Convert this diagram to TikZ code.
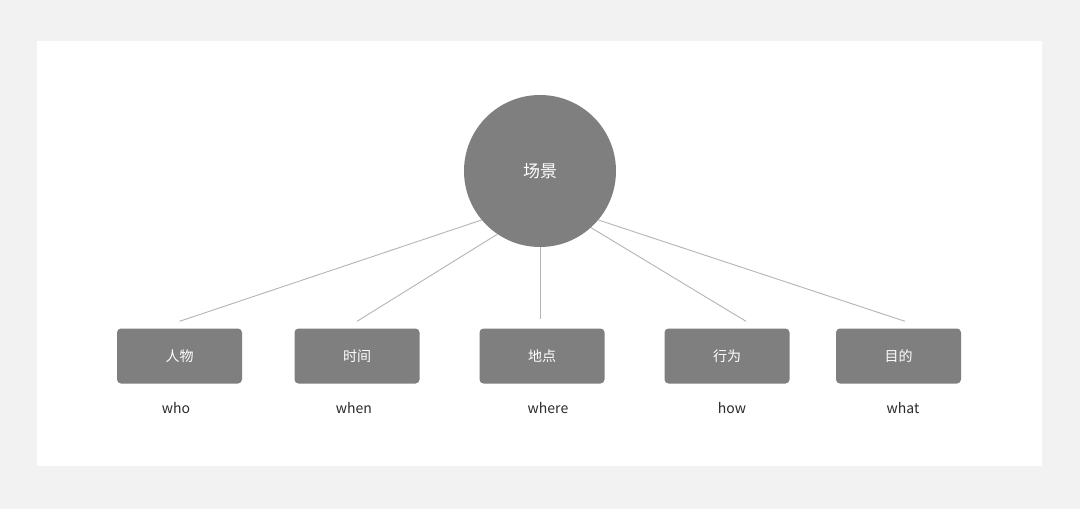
\documentclass[tikz,border=0pt]{standalone}
\usepackage{fontspec}
\setmainfont{Noto Sans CJK SC}
\definecolor{boxgray}{HTML}{7F7F7F}
\definecolor{linegray}{HTML}{B5B5B5}
\definecolor{bggray}{HTML}{F2F2F2}
\definecolor{txtgray}{HTML}{2B2B2B}
\tikzset{
  item/.style={rectangle,rounded corners=4pt,fill=boxgray,minimum width=125pt,minimum height=55pt,text=white,font=\fontsize{14}{16}\selectfont},
  tag/.style={text=txtgray,font=\fontsize{14}{16}\selectfont},
  link/.style={linegray,line width=0.9pt}
}
\begin{document}
\begin{tikzpicture}[x=1pt,y=-1pt]
  % background and white panel
  \fill[bggray] (0,0) rectangle (1080,509);
  \fill[white] (37,41) rectangle (1042,466);
  \useasboundingbox (0,0) rectangle (1080,509);
  % centre
  \node[circle,fill=boxgray,minimum size=152pt,inner sep=0pt,text=white,font=\fontsize{17}{20}\selectfont] (scene) at (540,171) {场景};
  % boxes
  \node[item] (who) at (179.5,356) {人物};
  \node[item] (when) at (357,356) {时间};
  \node[item] (where) at (542,356) {地点};
  \node[item] (how) at (727,356) {行为};
  \node[item] (what) at (898.5,356) {目的};
  % labels
  \node[tag] (lwho) at (176,408) {who};
  \node[tag] (lwhen) at (354,408) {when};
  \node[tag] (lwhere) at (548,408) {where};
  \node[tag] (lhow) at (732,408) {how};
  \node[tag] (lwhat) at (903,408) {what};
  % lines
  \draw[link] (scene.220.4) -- ([yshift=7pt]who.north);
  \draw[link] (scene.236.5) -- ([yshift=7pt]when.north);
  \draw[link] (scene.south) -- ([xshift=-2pt,yshift=9pt]where.north);
  \draw[link] (scene.312.4) -- ([xshift=19pt,yshift=7pt]how.north);
  \draw[link] (scene.320.2) -- ([xshift=6.5pt,yshift=7pt]what.north);
\end{tikzpicture}
\end{document}
